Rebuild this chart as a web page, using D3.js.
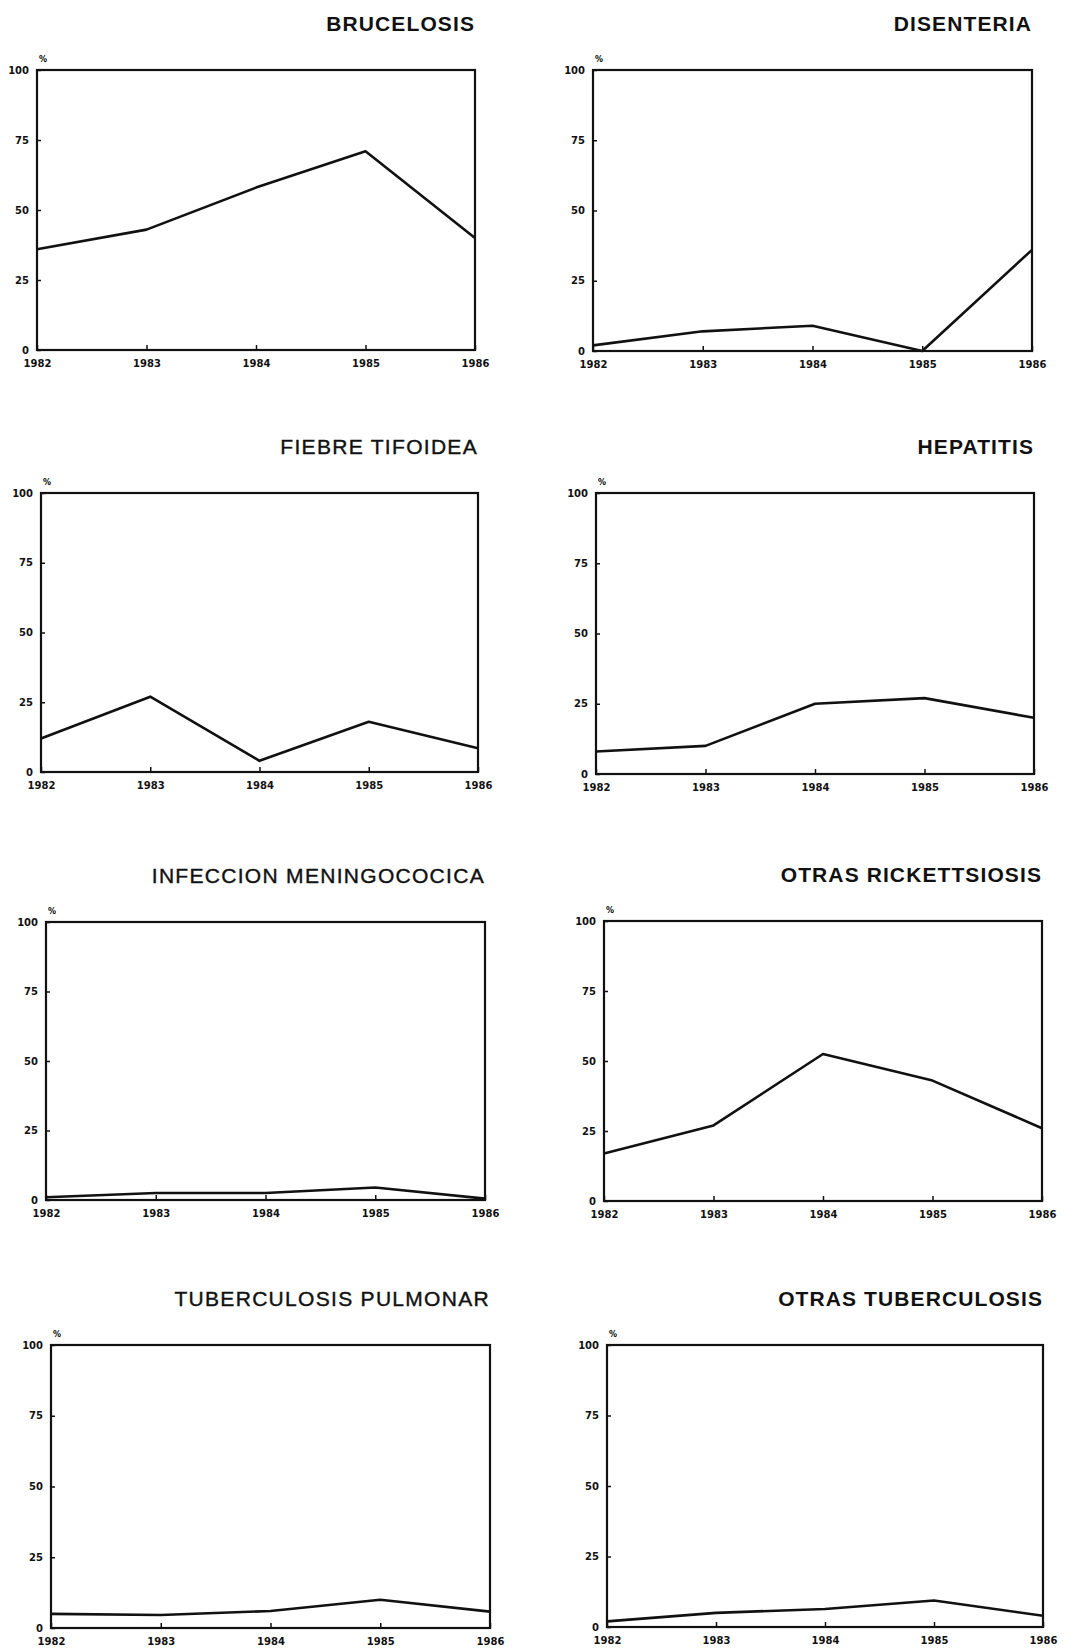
<!DOCTYPE html>
<html><head><meta charset="utf-8">
<script src="https://cdn.jsdelivr.net/npm/d3@7"></script>
<style>
html,body{margin:0;padding:0;background:#fff;}
svg{display:block;}
.tick text{font-family:"DejaVu Sans",sans-serif;font-weight:bold;font-size:10px;fill:#111;}
</style></head>
<body>
<svg id="chart" width="1066" height="1651"></svg>
<script>
const years = [1982, 1983, 1984, 1985, 1986];
const yTicks = [0, 25, 50, 75, 100];
const titles = ["BRUCELOSIS", "DISENTERIA", "FIEBRE TIFOIDEA", "HEPATITIS",
  "INFECCION MENINGOCOCICA", "OTRAS RICKETTSIOSIS", "TUBERCULOSIS PULMONAR", "OTRAS TUBERCULOSIS"];
const brucelosis     = [36, 43, 58, 71, 40];
const disenteria     = [2, 7, 9, 0, 36];
const fiebreTifoidea = [12, 27, 4, 18, 8.5];
const hepatitis      = [8, 10, 25, 27, 20];
const meningococica  = [1, 2.5, 2.5, 4.5, 0.5];
const rickettsiosis  = [17, 27, 52.5, 43, 26];
const tbPulmonar     = [5, 4.6, 6, 10, 5.8];
const otrasTb        = [2, 5, 6.4, 9.4, 4];
const seriesList = [brucelosis, disenteria, fiebreTifoidea, hepatitis,
  meningococica, rickettsiosis, tbPulmonar, otrasTb];

// layout (frame boxes in px) and title weights
const frames = [
  {l:37, r:475, t:70, b:350}, {l:593, r:1032, t:70, b:351},
  {l:41, r:478, t:493, b:772}, {l:596, r:1034, t:493, b:774},
  {l:46, r:485, t:922, b:1200}, {l:604, r:1042, t:921, b:1201},
  {l:51, r:490, t:1345, b:1628}, {l:607, r:1043, t:1345, b:1627}
];
const titleBold = [true, true, false, true, false, true, false, true];

const svg = d3.select("#chart");

seriesList.forEach((vals, i) => {
  const f = frames[i];
  const x = d3.scaleLinear().domain([1982, 1986]).range([f.l, f.r]);
  const y = d3.scaleLinear().domain([0, 100]).range([f.b, f.t]);
  const g = svg.append("g");

  // title
  g.append("text")
    .attr("x", f.r).attr("y", f.t - 39)
    .attr("text-anchor", "end")
    .style("font-family", "'Liberation Sans', Arial, sans-serif")
    .style("font-size", "21px")
    .style("font-weight", titleBold[i] ? "bold" : "normal")
    .style("letter-spacing", titleBold[i] ? "1.1px" : "1.3px")
    .style("fill", "#111")
    .style("stroke", titleBold[i] ? "none" : "#111")
    .style("stroke-width", titleBold[i] ? 0 : 0.4)
    .text(titles[i]);

  // percent sign
  g.append("text")
    .attr("x", f.l + 2).attr("y", f.t - 8)
    .style("font-family", "'DejaVu Sans', sans-serif")
    .style("font-size", "8px").style("font-weight", "bold")
    .text("%");

  // axes
  const yAxis = d3.axisLeft(y).tickValues(yTicks).tickFormat(d3.format("d"))
    .tickSizeInner(-4).tickSizeOuter(0).tickPadding(8);
  const ya = g.append("g").attr("transform", `translate(${f.l},0)`).call(yAxis);
  ya.select(".domain").remove();
  ya.selectAll(".tick line").attr("stroke", "#111").attr("stroke-width", 1.5);

  const xAxis = d3.axisBottom(x).tickValues(years).tickFormat(d3.format("d"))
    .tickSizeInner(-5).tickSizeOuter(0).tickPadding(10);
  const xa = g.append("g").attr("transform", `translate(0,${f.b})`).call(xAxis);
  xa.select(".domain").remove();
  xa.selectAll(".tick line").attr("stroke", "#111").attr("stroke-width", 1.5);

  // frame
  g.append("rect")
    .attr("x", x(1982)).attr("y", y(100))
    .attr("width", x(1986) - x(1982)).attr("height", y(0) - y(100))
    .attr("fill", "none").attr("stroke", "#111").attr("stroke-width", 2.2);

  // line
  const line = d3.line().x((d, j) => x(years[j])).y(d => y(d));
  g.append("path").datum(vals)
    .attr("d", line)
    .attr("fill", "none").attr("stroke", "#111")
    .attr("stroke-width", 2.6).attr("stroke-linejoin", "round");
});
</script>
</body></html>
